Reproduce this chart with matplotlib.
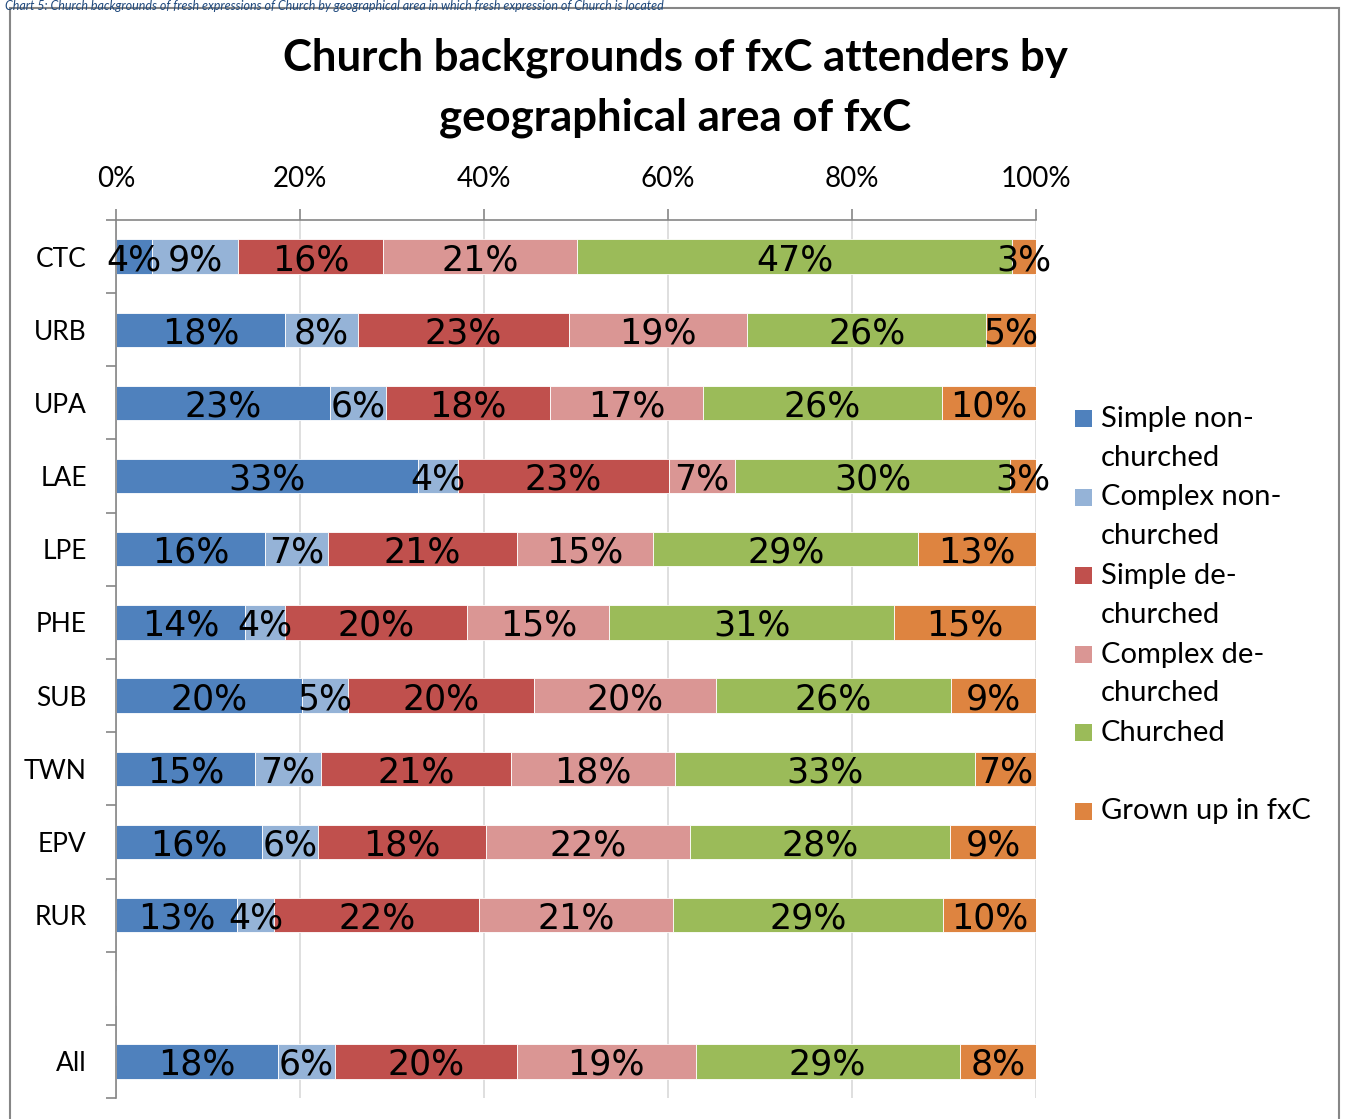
import numpy as np
import matplotlib
matplotlib.use("Agg")
import matplotlib.pyplot as plt
from matplotlib.patches import Rectangle

plt.rcParams['font.family'] = ['Lato', 'DejaVu Sans']

# Data (percent of attenders)
areas = ['CTC', 'URB', 'UPA', 'LAE', 'LPE', 'PHE', 'SUB', 'TWN', 'EPV', 'RUR', '', 'All']
series = ['Simple non-\nchurched', 'Complex non-\nchurched', 'Simple de-\nchurched',
          'Complex de-\nchurched', 'Churched', 'Grown up in fxC']
simple_non = [3.9, 18.4, 23.3, 32.8, 16.2, 14.0, 20.2, 15.1, 15.9, 13.2, 0, 17.6]
complex_non = [9.4, 7.9, 6.0, 4.4, 6.8, 4.4, 5.0, 7.2, 6.1, 4.0, 0, 6.2]
simple_de = [15.7, 22.9, 17.9, 22.9, 20.6, 19.8, 20.2, 20.6, 18.2, 22.3, 0, 19.8]
complex_de = [21.1, 19.4, 16.6, 7.2, 14.8, 15.4, 19.8, 17.9, 22.2, 21.0, 0, 19.4]
churched = [47.3, 26.0, 26.0, 29.9, 28.8, 31.0, 25.6, 32.6, 28.3, 29.4, 0, 28.7]
grown_up = [2.6, 5.4, 10.2, 2.8, 12.8, 15.4, 9.2, 6.6, 9.3, 10.1, 0, 8.3]
colors = ['#4F81BD', '#95B3D7', '#C0504D', '#DA9694', '#9BBB59', '#DE8440']

data = [simple_non, complex_non, simple_de, complex_de, churched, grown_up]

fig = plt.figure(figsize=(13.47, 11.19), dpi=100)
ax = fig.add_axes([116 / 1347, 1 - 1098 / 1119, 920 / 1347, 878 / 1119])

y = np.arange(len(areas))
left = np.zeros(len(areas))
for vals, col, name in zip(data, colors, series):
    vals = np.array(vals, dtype=float)
    bars = ax.barh(y, vals, left=left, height=0.47, color=col,
                   edgecolor='white', linewidth=0.6, label=name, zorder=2)
    labels = ['' if v == 0 else f'{round(v)}%' for v in vals]
    txts = ax.bar_label(bars, labels=labels, label_type='center', fontsize=25,
                        color='black', family=['Liberation Sans Narrow', 'DejaVu Sans'])
    for t in txts:
        t.set_va('center_baseline')
    left += vals

ax.set_xlim(0, 100)
ax.set_ylim(len(areas) - 0.5, -0.5)
ax.xaxis.tick_top()
ax.set_xticks(np.arange(0, 101, 20))
ax.set_xticklabels([f'{t}%' for t in range(0, 101, 20)], fontsize=20)
ax.tick_params(axis='x', which='major', length=8, width=1.2, color='#868686', pad=12)
ax.set_yticks(y)
ax.set_yticklabels(areas, fontsize=19)
ax.set_yticks(np.arange(-0.5, len(areas), 1), minor=True)
ax.tick_params(axis='y', which='major', length=0, pad=21)
ax.tick_params(axis='y', which='minor', length=7, width=1.2, color='#868686')
ax.grid(axis='x', color='#D9D9D9', linewidth=1.2, zorder=0)
ax.set_axisbelow(True)
for s in ['right', 'bottom']:
    ax.spines[s].set_visible(False)
for s in ['top', 'left']:
    ax.spines[s].set_color('#868686')
    ax.spines[s].set_linewidth(1.2)

# title and caption
fig.text(0.5015, 1 - 88 / 1119, 'Church backgrounds of fxC attenders by\ngeographical area of fxC',
         ha='center', va='center', fontsize=31.5, fontweight='bold', linespacing=1.6)
fig.text(0.004, 1.0, 'Chart 5: Church backgrounds of fresh expressions of Church by geographical area '
         'in which fresh expression of Church is located', ha='left', va='top',
         fontsize=9, style='italic', color='#1F497D')

# outer frame
fig.patches.append(Rectangle((10 / 1347, -0.05), 1329 / 1347, 1.05 - 8 / 1119,
                             transform=fig.transFigure, fill=False,
                             edgecolor='#868686', linewidth=1.5))

# legend drawn by hand so the markers sit on the first text line
ly0 = 418
step = 78.5
for i, (name, col) in enumerate(zip(series, colors)):
    yy = ly0 + i * step
    fig.patches.append(Rectangle((1075 / 1347, 1 - (yy + 9) / 1119), 17 / 1347, 17 / 1119,
                                 transform=fig.transFigure, facecolor=col, edgecolor='none'))
    fig.text(1101 / 1347, 1 - (yy - 12) / 1119, name, ha='left', va='top',
             fontsize=21, linespacing=1.6)

fig.savefig('out.png', dpi=100)
